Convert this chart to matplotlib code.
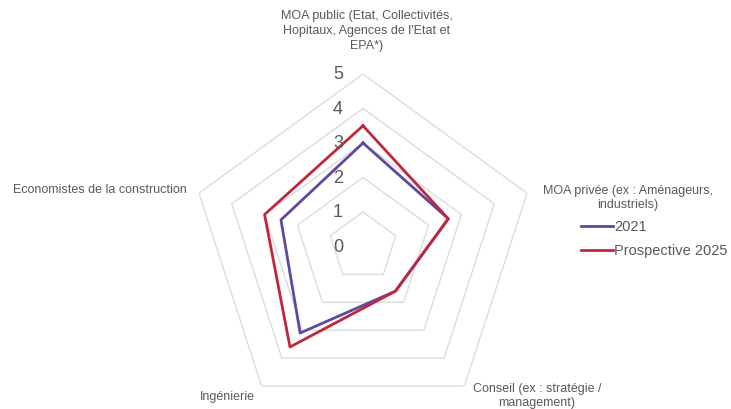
import numpy as np
import matplotlib.pyplot as plt

# Data
categories = ["MOA public (Etat, Collectivités,\nHopitaux, Agences de l'Etat et\nEPA*)",
              "MOA privée (ex : Aménageurs,\nindustriels)",
              "Conseil (ex : stratégie /\nmanagement)",
              "Ingénierie",
              "Economistes de la construction"]
series_names = ["2021", "Prospective 2025"]
values_2021 = [3.0, 2.6, 1.6, 3.1, 2.5]
values_2025 = [3.5, 2.6, 1.6, 3.6, 3.0]
rings = [0, 1, 2, 3, 4, 5]

colors = ["#5b4a9e", "#c0273d"]
grey = "#595959"
plt.rcParams['font.family'] = ['Liberation Sans', 'DejaVu Sans']

W, H = 731, 410
fig = plt.figure(figsize=(W / 100, H / 100), dpi=100)

def px(x, y):
    return x / W, 1 - y / H

# polar axes centred on the pentagon
cx, cy, R = 363, 247.5, 172.5
ax = fig.add_axes([(cx - R) / W, (H - cy - R) / H, 2 * R / W, 2 * R / H], projection='polar')
ax.set_theta_zero_location('N')
ax.set_theta_direction(-1)
ax.set_ylim(0, 5)
ax.axis('off')

n = len(categories)
angles = np.linspace(0, 2 * np.pi, n, endpoint=False)
closed = np.append(angles, angles[0])

# pentagon grid
for r in rings[1:]:
    ax.plot(closed, [r] * (n + 1), color="#dcdcdc", lw=1.0, zorder=1)

# series
for vals, name, c in zip([values_2021, values_2025], series_names, colors):
    ax.plot(closed, vals + vals[:1], color=c, lw=2.0, label=name, zorder=3)

# ring labels along the vertical axis
for r in rings:
    x, y = cx - 25, cy - r * R / 5
    fig.text(*px(x, y), str(r), fontsize=13, color=grey, ha='center', va='center')

# category labels
fs = 9
ls = 1.2
fig.text(*px(367, 31), categories[0], fontsize=fs, color=grey, ha='center', va='center', linespacing=1.3)
fig.text(*px(628, 198), categories[1], fontsize=fs, color=grey, ha='center', va='center', linespacing=1.3)
fig.text(*px(537, 396), categories[2], fontsize=fs, color=grey, ha='center', va='center', linespacing=ls)
fig.text(*px(227, 397), categories[3], fontsize=fs, color=grey, ha='center', va='center')
fig.text(*px(100, 190), categories[4], fontsize=fs, color=grey, ha='center', va='center')

# legend
for i, (name, c) in enumerate(zip(series_names, colors)):
    y = 227 + i * 24
    fig.add_artist(plt.Line2D([581 / W, 613 / W], [1 - y / H, 1 - y / H], color=c, lw=2.0))
    fig.text(*px(614, y), name, fontsize=10.5, color=grey, ha='left', va='center')

fig.savefig("out.png", dpi=100, facecolor='white')
